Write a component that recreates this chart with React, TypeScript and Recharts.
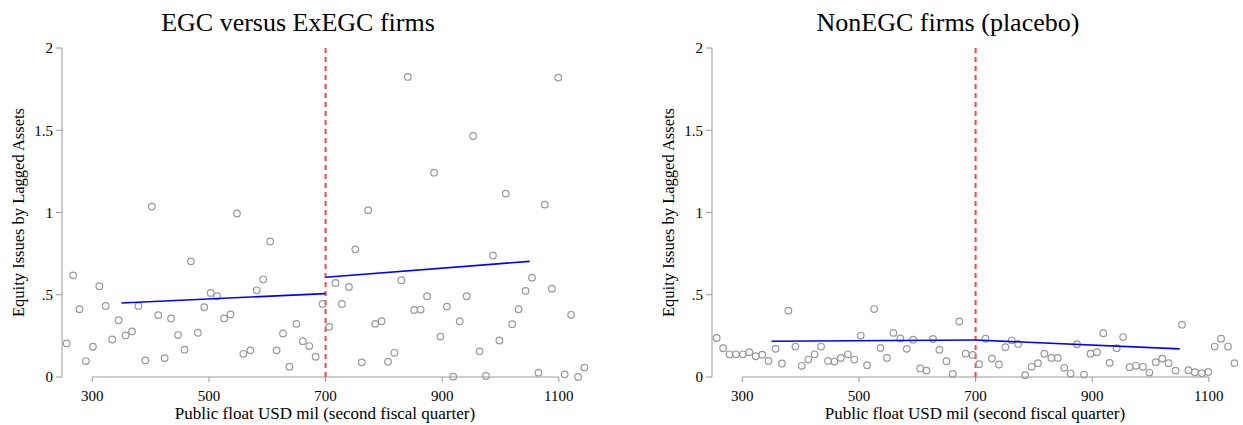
import React from 'react';
import { ScatterChart, Scatter, XAxis, YAxis, ReferenceLine, Label } from 'recharts';

const FONT = '"Liberation Serif", "Times New Roman", serif';
const AXIS_GREY = '#999999';

// bin midpoints of public float (USD mil), shared by both panels
const floatBins = [
    256, 267, 278, 289, 301, 312, 323, 334, 345, 357,
    368, 379, 391, 402, 413, 424, 435, 447, 458, 469,
    481, 492, 503, 514, 526, 537, 548, 559, 571, 582,
    593, 605, 616, 627, 638, 650, 661, 672, 683, 695,
    706, 717, 728, 740, 751, 762, 773, 785, 796, 807,
    818, 830, 841, 852, 863, 874, 886, 897, 908, 919,
    930, 942, 953, 964, 975, 987, 998, 1009, 1020, 1031,
    1043, 1054, 1065, 1076, 1088, 1099, 1110, 1121, 1133, 1144,
];

const egcIssues = [
    0.204, 0.618, 0.412, 0.097, 0.184, 0.552, 0.432, 0.228, 0.345, 0.253,
    0.277, 0.432, 0.101, 1.036, 0.376, 0.115, 0.356, 0.255, 0.166, 0.703,
    0.269, 0.424, 0.511, 0.491, 0.356, 0.380, 0.994, 0.141, 0.162, 0.527,
    0.594, 0.824, 0.162, 0.265, 0.063, 0.323, 0.218, 0.188, 0.123, 0.444,
    0.305, 0.572, 0.444, 0.547, 0.776, 0.089, 1.014, 0.323, 0.339, 0.093,
    0.147, 0.588, 1.824, 0.408, 0.410, 0.491, 1.242, 0.246, 0.428, 0.002,
    0.339, 0.491, 1.465, 0.156, 0.006, 0.739, 0.222, 1.115, 0.321, 0.412,
    0.523, 0.604, 0.026, 1.048, 0.537, 1.820, 0.016, 0.378, 0.0, 0.057,
];

const nonEgcIssues = [
    0.237, 0.175, 0.138, 0.138, 0.138, 0.151, 0.126, 0.136, 0.098, 0.171,
    0.082, 0.403, 0.185, 0.068, 0.106, 0.138, 0.185, 0.098, 0.094, 0.116,
    0.138, 0.106, 0.252, 0.072, 0.413, 0.177, 0.116, 0.268, 0.235, 0.171,
    0.227, 0.052, 0.039, 0.231, 0.165, 0.096, 0.019, 0.338, 0.142, 0.134,
    0.078, 0.233, 0.112, 0.076, 0.181, 0.223, 0.201, 0.011, 0.062, 0.084,
    0.142, 0.116, 0.116, 0.056, 0.021, 0.199, 0.015, 0.142, 0.151, 0.266,
    0.086, 0.175, 0.243, 0.060, 0.068, 0.062, 0.027, 0.090, 0.112, 0.084,
    0.039, 0.318, 0.041, 0.029, 0.023, 0.031, 0.185, 0.233, 0.185, 0.084,
];

// linear fits either side of the 700 cutoff
const fitX = { before: [350, 700], after: [700, 1050] };
const egcFit = { before: [0.45, 0.507], after: [0.606, 0.703] };
const nonEgcFit = { before: [0.217, 0.225], after: [0.225, 0.171] };

const cutoff = 700;
const xTicks = [300, 500, 700, 900, 1100];
const yTicks = [0, 0.5, 1, 1.5, 2];

const toPoints = (xs: number[], ys: number[]) => xs.map((x, i) => ({ x, y: ys[i] }));

const HollowDot = (props: any) => (
    <circle cx={props.cx} cy={props.cy} r={3.3} fill="none" stroke="#999999" strokeWidth={1.2} />
);

const NoDot = () => <g />;

interface PanelProps {
    title: string;
    left: number;
    issues: number[];
    fit: { before: number[]; after: number[] };
}

const Panel: React.FC<PanelProps> = ({ title, left, issues, fit }) => {
    const points = toPoints(floatBins, issues);
    return (
        <div style={{ position: 'absolute', left, top: 0, width: 593, height: 425 }}>
            <div
                style={{
                    position: 'absolute', left: 0, top: 10, width: 596, textAlign: 'center',
                    fontFamily: FONT, fontSize: 26, lineHeight: '26px', color: '#000',
                }}
            >
                {title}
            </div>
            <ScatterChart
                width={593}
                height={425}
                margin={{ top: 48, right: 5, bottom: 0, left: 0 }}
                style={{ fontFamily: FONT }}
            >
                <XAxis
                    type="number"
                    dataKey="x"
                    domain={[248, 1150]}
                    ticks={xTicks}
                    allowDataOverflow
                    axisLine={false}
                    tickLine={{ stroke: AXIS_GREY }}
                    tickSize={5}
                    tickMargin={8}
                    height={48}
                    fontSize={15}
                    fontFamily={FONT}
                    tick={{ fill: '#000', fontSize: 15, fontFamily: FONT }}
                >
                    <Label
                        content={(p: any) => (
                            <text
                                x={p.viewBox.x + p.viewBox.width / 2}
                                y={p.viewBox.y + 42}
                                textAnchor="middle"
                                fontSize={17}
                                fontFamily={FONT}
                                fill="#000"
                            >
                                Public float USD mil (second fiscal quarter)
                            </text>
                        )}
                    />
                </XAxis>
                <YAxis
                    type="number"
                    dataKey="y"
                    domain={[0, 2]}
                    ticks={yTicks}
                    width={62}
                    axisLine={{ stroke: AXIS_GREY }}
                    tickLine={{ stroke: AXIS_GREY }}
                    tickSize={6}
                    tickMargin={3}
                    fontSize={15}
                    fontFamily={FONT}
                    tick={{ fill: '#000', fontSize: 15, fontFamily: FONT }}
                    tickFormatter={(v: number) => (v === 0.5 ? '.5' : String(v))}
                >
                    <Label
                        content={(p: any) => {
                            const cy = p.viewBox.y + p.viewBox.height / 2;
                            return (
                                <text
                                    x={18}
                                    y={cy}
                                    transform={`rotate(-90 18 ${cy})`}
                                    textAnchor="middle"
                                    dominantBaseline="central"
                                    fontSize={16.5}
                                    fontFamily={FONT}
                                    fill="#000"
                                >
                                    Equity Issues by Lagged Assets
                                </text>
                            );
                        }}
                    />
                </YAxis>

                {/* stata-style x axis only spans the labelled ticks */}
                <ReferenceLine
                    segment={[{ x: xTicks[0], y: 0 }, { x: xTicks[xTicks.length - 1], y: 0 }]}
                    stroke={AXIS_GREY}
                    ifOverflow="visible"
                />
                <ReferenceLine
                    segment={[{ x: cutoff, y: 0 }, { x: cutoff, y: 2 }]}
                    stroke="#ff4040"
                    strokeWidth={2}
                    strokeDasharray="5 4"
                    ifOverflow="visible"
                />

                <Scatter data={points} shape={HollowDot} isAnimationActive={false} />
                <Scatter
                    data={toPoints(fitX.before, fit.before)}
                    line={{ stroke: '#0000ff', strokeWidth: 1.6 }}
                    shape={NoDot}
                    isAnimationActive={false}
                />
                <Scatter
                    data={toPoints(fitX.after, fit.after)}
                    line={{ stroke: '#0000ff', strokeWidth: 1.6 }}
                    shape={NoDot}
                    isAnimationActive={false}
                />
            </ScatterChart>
        </div>
    );
}

export default function App() {
    return (
        <div style={{ position: 'absolute', left: 0, top: 0, width: 1243, height: 425, overflow: 'hidden', background: '#fff' }}>
            <Panel title="EGC versus ExEGC firms" left={0} issues={egcIssues} fit={egcFit} />
            <Panel title="NonEGC firms (placebo)" left={650} issues={nonEgcIssues} fit={nonEgcFit} />
        </div>
    );
}
